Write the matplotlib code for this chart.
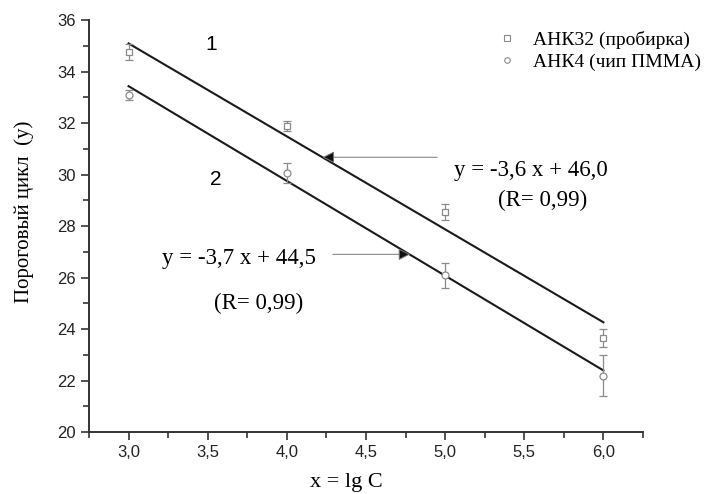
import numpy as np
import matplotlib
matplotlib.use('Agg')
import matplotlib.pyplot as plt
from matplotlib.ticker import MultipleLocator, FuncFormatter
from matplotlib.lines import Line2D

# данные: x = lg C, пороговый цикл
x = [3.0, 4.0, 5.0, 6.0]
y1 = [34.75, 31.87, 28.55, 23.65]   # АНК32 (пробирка)
e1 = [0.30, 0.20, 0.30, 0.34]
y2 = [33.08, 30.05, 26.08, 22.19]   # АНК4 (чип ПММА)
e2 = [0.20, 0.38, 0.48, 0.79]

# линии регрессии (наклон, свободный член), как на рисунке
fit1 = [-3.61, 45.92]
fit2 = [-3.68, 44.47]

lbl1 = 'АНК32 (пробирка)'
lbl2 = 'АНК4 (чип ПММА)'
eq1 = 'y = -3,6 x + 46,0'
eq2 = 'y = -3,7 x + 44,5'
rtxt = '(R= 0,99)'

serif = 'Liberation Serif'
sans = 'Liberation Sans'
gray = '#8a8a8a'
axcol = '#333333'

fig = plt.figure(figsize=(7.11, 4.94), dpi=100)
ax = fig.add_axes([89/711, 62/494, 554/711, 412/494])

xs = np.array([3.0, 6.0])
ax.plot(xs, fit1[0]*xs + fit1[1], color='#1a1a1a', lw=1.5, zorder=3)
ax.plot(xs, fit2[0]*xs + fit2[1], color='#1a1a1a', lw=1.5, zorder=3)

ax.errorbar(x, y1, yerr=e1, fmt='s', ms=5, mfc='white', mec=gray, mew=0.9,
            ecolor=gray, elinewidth=0.9, capsize=3, capthick=0.9, zorder=4)
ax.errorbar(x, y2, yerr=e2, fmt='o', ms=5, mfc='white', mec=gray, mew=0.9,
            ecolor=gray, elinewidth=0.9, capsize=3, capthick=0.9, zorder=4)

ax.set_xlim(2.75, 6.25)
ax.set_ylim(20, 36)
ax.xaxis.set_major_locator(MultipleLocator(0.5))
ax.xaxis.set_minor_locator(MultipleLocator(0.25))
ax.yaxis.set_major_locator(MultipleLocator(2))
ax.yaxis.set_minor_locator(MultipleLocator(1))
ax.xaxis.set_major_formatter(FuncFormatter(lambda v, p: ('%.1f' % v).replace('.', ',')))
ax.yaxis.set_major_formatter(FuncFormatter(lambda v, p: '%d' % v))

for s in ['top', 'right']:
    ax.spines[s].set_visible(False)
for s in ['left', 'bottom']:
    ax.spines[s].set_color(axcol)
    ax.spines[s].set_linewidth(1.4)

ax.tick_params(which='major', direction='out', length=6, width=1.2, color=axcol,
               labelsize=12, labelcolor='#222222')
ax.tick_params(which='minor', direction='out', length=4, width=1.2, color=axcol)
for t in ax.get_xticklabels() + ax.get_yticklabels():
    t.set_fontfamily(sans)

ax.set_xlabel('x = lg C', fontfamily=serif, fontsize=16)
ax.xaxis.set_label_coords(0.464, -0.10)
ax.set_ylabel('Пороговый цикл  (у)', fontfamily=serif, fontsize=15)
ax.yaxis.set_label_coords(-0.10, 0.534)

# номера линий
ax.text(3.52, 35.05, '1', fontfamily=sans, fontsize=15, ha='center', va='center')
ax.text(3.55, 29.8, '2', fontfamily=sans, fontsize=15, ha='center', va='center')

# уравнения и стрелки
ax.text(5.54, 30.16, eq1, fontfamily=serif, fontsize=16.5, ha='center', va='center')
ax.text(5.615, 29.0, rtxt, fontfamily=serif, fontsize=16.5, ha='center', va='center')
ax.annotate('', xy=(4.225, 30.67), xytext=(4.95, 30.67),
            arrowprops=dict(arrowstyle='-|>', fc='#111111', ec='#777777', lw=0.7,
                            mutation_scale=18, shrinkA=0, shrinkB=0))
ax.text(3.70, 26.75, eq2, fontfamily=serif, fontsize=16.5, ha='center', va='center')
ax.text(3.82, 25.0, rtxt, fontfamily=serif, fontsize=16.5, ha='center', va='center')
ax.annotate('', xy=(4.78, 26.9), xytext=(4.29, 26.9),
            arrowprops=dict(arrowstyle='-|>', fc='#111111', ec='#777777', lw=0.7,
                            mutation_scale=18, shrinkA=0, shrinkB=0))

# легенда только с маркерами
h1 = Line2D([], [], ls='none', marker='s', ms=4, mfc='white', mec=gray, mew=0.8)
h2 = Line2D([], [], ls='none', marker='o', ms=4, mfc='white', mec=gray, mew=0.8)
ax.legend([h1, h2], [lbl1, lbl2], loc='upper left',
          bbox_to_anchor=(497/711, 1 - 31/494), bbox_transform=fig.transFigure,
          frameon=False, prop={'family': serif, 'size': 14}, handlelength=1.0,
          handletextpad=0.85, labelspacing=0.2, borderaxespad=0, borderpad=0)

fig.savefig('out.png', dpi=100)
